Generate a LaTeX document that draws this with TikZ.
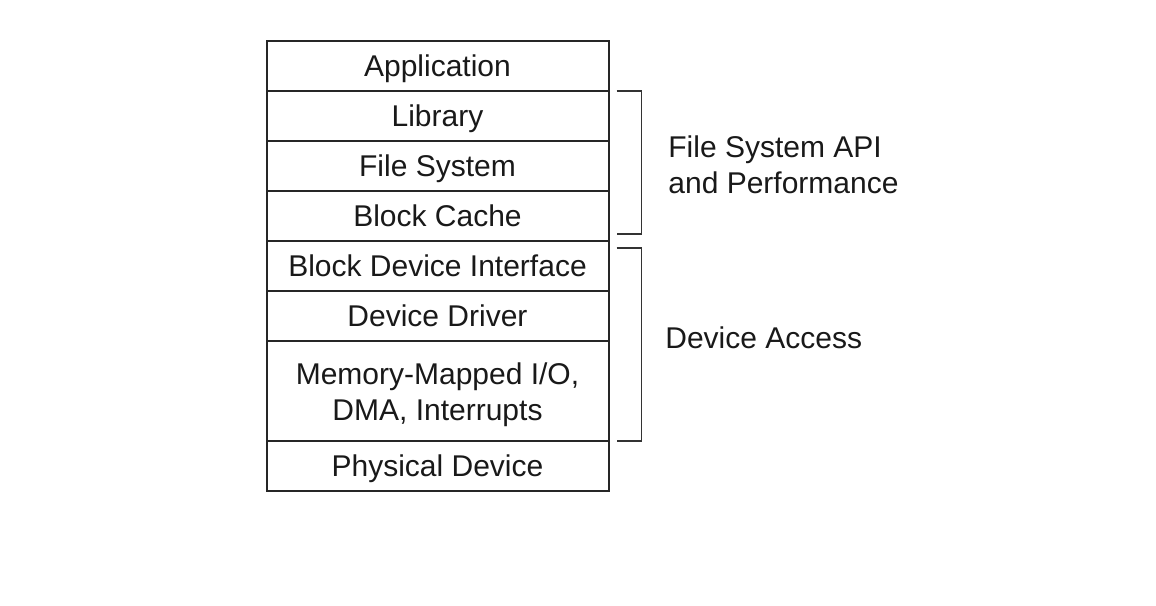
\documentclass[tikz,border=0pt]{standalone}
\usepackage{fontspec}
\setmainfont{Liberation Sans}
\usetikzlibrary{positioning}
\begin{document}
\begin{tikzpicture}[x=0.5pt,y=-0.5pt,draw=black!85]
	\fontsize{15pt}{18pt}\selectfont
	\def \stackx{437.5}
	\def \toprow{66}
	\def \colwidth{171pt}
	\def \rowht{25pt}

	\tikzstyle{layer}=[rectangle,draw=black!85,line width=1pt,minimum width=\colwidth,minimum height=\rowht,inner sep=0pt,outer sep=0pt,align=center,text=black!90,text height=11pt,text depth=1pt]
	\tikzstyle{bigger}=[minimum height=2*\rowht,text height=29pt,text depth=0pt]
	\tikzstyle{bracket}=[-,line width=0.8pt,draw=black!80]
	\tikzstyle{annot}=[align=left,anchor=west,text=black!90,inner sep=0pt]

	\useasboundingbox (0,0) rectangle (1156,605);

	% the stack
	\node[layer] 	(app)	at (\stackx,\toprow)	{Application};
	\node[layer] 	(lib)	[below=0pt of app]	{Library};
	\node[layer] 	(fs)	[below=0pt of lib]	{File System};
	\node[layer] 	(bcache)	[below=0pt of fs]	{Block Cache};
	\node[layer] 	(bdi)	[below=0pt of bcache]	{Block Device Interface};
	\node[layer] 	(drv)	[below=0pt of bdi]	{Device Driver};
	\node[layer,bigger] 	(mmio)	[below=0pt of drv]	{Memory-Mapped I/O,\\DMA, Interrupts};
	\node[layer] 	(phys)	[below=0pt of mmio]	{Physical Device};

	% brackets
	\draw[bracket] ([xshift=4pt]lib.north east) -| ([xshift=16.5pt,yshift=3.5pt]bcache.south east) -- ([xshift=4pt,yshift=3.5pt]bcache.south east);
	\draw[bracket] ([xshift=4pt,yshift=-3.5pt]bdi.north east) -| ([xshift=16.5pt]mmio.south east) -- ([xshift=4pt]mmio.south east);

	% labels
	\node[annot] 	(fsapi)	at (668,165)	{File System API\\and Performance};
	\node[annot] 	(devacc)	at (665,338)	{Device Access};
\end{tikzpicture}
\end{document}
